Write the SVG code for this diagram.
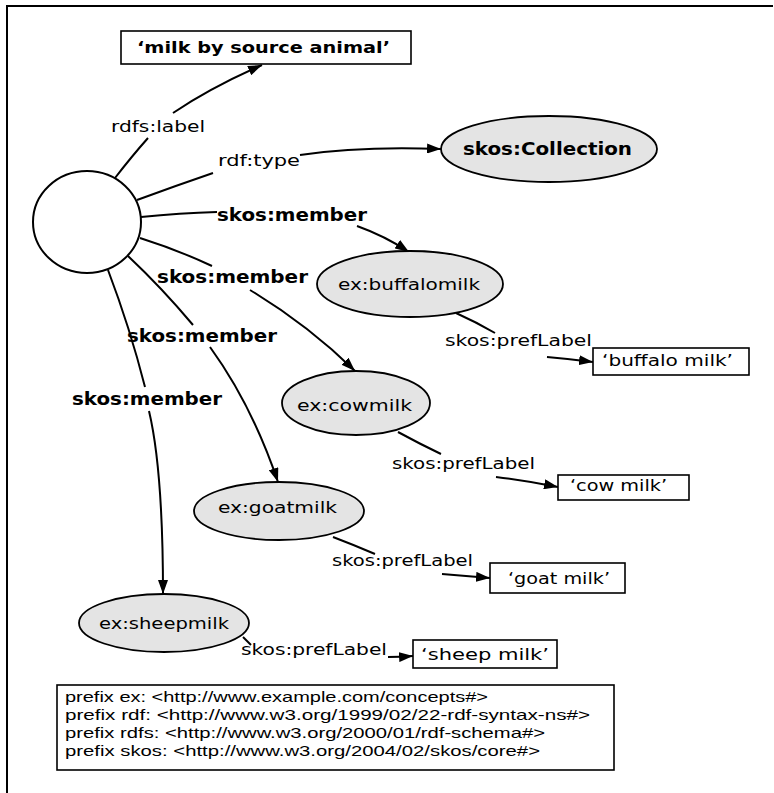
<svg xmlns="http://www.w3.org/2000/svg" width="774" height="793" viewBox="0 0 774 793">
<defs>
<marker id="ah" viewBox="0 0 14 10" refX="14" refY="5" markerWidth="14" markerHeight="10" markerUnits="userSpaceOnUse" orient="auto">
<path d="M0,0 L14,5 L0,10 z" fill="#000"/>
</marker>
</defs>
<style>
.frame{stroke:#000;stroke-width:2;fill:none}
.box{fill:#fff;stroke:#000;stroke-width:1.6}
.res{fill:#e4e4e4;stroke:#000;stroke-width:1.8}
.blank{fill:#fff;stroke:#000;stroke-width:2}
.edge{fill:none;stroke:#000;stroke-width:2}
.arr{marker-end:url(#ah)}
text{font-family:"DejaVu Sans","Liberation Sans",sans-serif;fill:#000}
.lbl{font-size:16px}
.b{font-weight:bold;font-size:17px}
.lit{font-size:16px}
.pre{font-family:"Liberation Sans","DejaVu Sans",sans-serif;font-size:14.5px}
</style>
<rect width="774" height="793" fill="#fff"/>
<path class="frame" d="M7,793 L7,6 L773,6"/>

<g id="connectors">
<path class="edge" d="M115,178 Q132,156 148,138"/>
<path class="edge arr" d="M173,113 Q210,88 262,65"/>
<path class="edge" d="M137,200 Q175,186 213,173"/>
<path class="edge arr" d="M300,155 Q360,146 441,149"/>
<path class="edge" d="M141,217 Q180,213 217,212"/>
<path class="edge arr" d="M357,226 Q385,236 409,252"/>
<path class="edge" d="M140,238 Q178,250 212,266"/>
<path class="edge arr" d="M250,290 Q308,325 355,371"/>
<path class="edge" d="M128,256 Q162,288 193,325"/>
<path class="edge arr" d="M210,347 Q252,405 278,482"/>
<path class="edge" d="M108,270 Q130,328 145,387"/>
<path class="edge arr" d="M149,411 Q163,470 163,594"/>
<path class="edge" d="M456,313 Q476,322 495,333"/>
<path class="edge arr" d="M547,357 Q570,359 593,362"/>
<path class="edge" d="M398,432 Q420,444 441,454"/>
<path class="edge arr" d="M496,477 Q528,481 558,487"/>
<path class="edge" d="M333,537 Q354,545 375,554"/>
<path class="edge arr" d="M442,574 Q466,576 490,578"/>
<path class="edge" d="M243,637 Q247,641 251,645"/>
<path class="edge arr" d="M388,657 Q400,657 413,656"/>
</g>

<g id="label-title">
<rect class="box" x="121" y="31" width="290" height="33"/>
<text class="lit b" x="137" y="53" textLength="253" lengthAdjust="spacingAndGlyphs">‘milk by source animal’</text>
</g>
<g id="collection-node">
<ellipse class="blank" cx="87" cy="222" rx="54" ry="51"/>
</g>
<g id="skos-collection">
<ellipse class="res" cx="549" cy="149" rx="108" ry="33"/>
<text class="lbl b" x="463" y="155" textLength="169" lengthAdjust="spacingAndGlyphs">skos:Collection</text>
</g>
<g id="buffalomilk">
<ellipse class="res" cx="410" cy="284" rx="93" ry="33"/>
<text class="lbl" x="338" y="290" textLength="142" lengthAdjust="spacingAndGlyphs">ex:buffalomilk</text>
</g>
<g id="buffalo-label">
<rect class="box" x="593" y="348" width="156" height="27"/>
<text class="lit" x="602" y="366" textLength="131" lengthAdjust="spacingAndGlyphs">‘buffalo milk’</text>
</g>
<g id="cowmilk">
<ellipse class="res" cx="356" cy="403" rx="74" ry="32"/>
<text class="lbl" x="297" y="411" textLength="115" lengthAdjust="spacingAndGlyphs">ex:cowmilk</text>
</g>
<g id="cow-label">
<rect class="box" x="558" y="475" width="131" height="25"/>
<text class="lit" x="570" y="491" textLength="97" lengthAdjust="spacingAndGlyphs">‘cow milk’</text>
</g>
<g id="goatmilk">
<ellipse class="res" cx="279" cy="511" rx="85" ry="29"/>
<text class="lbl" x="218" y="513" textLength="119" lengthAdjust="spacingAndGlyphs">ex:goatmilk</text>
</g>
<g id="goat-label">
<rect class="box" x="490" y="563" width="135" height="30"/>
<text class="lit" x="508" y="584" textLength="102" lengthAdjust="spacingAndGlyphs">‘goat milk’</text>
</g>
<g id="sheepmilk">
<ellipse class="res" cx="164" cy="623" rx="85" ry="29"/>
<text class="lbl" x="99" y="629" textLength="130" lengthAdjust="spacingAndGlyphs">ex:sheepmilk</text>
</g>
<g id="sheep-label">
<rect class="box" x="413" y="640" width="144" height="28"/>
<text class="lit" x="421" y="660" textLength="128" lengthAdjust="spacingAndGlyphs">‘sheep milk’</text>
</g>

<g id="edge-labels">
<text class="lbl" x="111" y="132" textLength="94" lengthAdjust="spacingAndGlyphs">rdfs:label</text>
<text class="lbl" x="218" y="166" textLength="82" lengthAdjust="spacingAndGlyphs">rdf:type</text>
<text class="lbl b" x="217" y="221" textLength="150" lengthAdjust="spacingAndGlyphs">skos:member</text>
<text class="lbl b" x="157" y="283" textLength="151" lengthAdjust="spacingAndGlyphs">skos:member</text>
<text class="lbl b" x="127" y="342" textLength="150" lengthAdjust="spacingAndGlyphs">skos:member</text>
<text class="lbl b" x="72" y="405" textLength="150" lengthAdjust="spacingAndGlyphs">skos:member</text>
<text class="lbl" x="445" y="346" textLength="147" lengthAdjust="spacingAndGlyphs">skos:prefLabel</text>
<text class="lbl" x="392" y="469" textLength="143" lengthAdjust="spacingAndGlyphs">skos:prefLabel</text>
<text class="lbl" x="332" y="566" textLength="141" lengthAdjust="spacingAndGlyphs">skos:prefLabel</text>
<text class="lbl" x="241" y="655" textLength="146" lengthAdjust="spacingAndGlyphs">skos:prefLabel</text>
</g>

<g id="prefixes">
<rect class="box" x="57" y="685" width="557" height="85"/>
<text class="pre" x="65" y="702" textLength="423" lengthAdjust="spacingAndGlyphs">prefix ex: &lt;http://www.example.com/concepts#&gt;</text>
<text class="pre" x="65" y="720" textLength="525" lengthAdjust="spacingAndGlyphs">prefix rdf: &lt;http://www.w3.org/1999/02/22-rdf-syntax-ns#&gt;</text>
<text class="pre" x="65" y="738" textLength="480" lengthAdjust="spacingAndGlyphs">prefix rdfs: &lt;http://www.w3.org/2000/01/rdf-schema#&gt;</text>
<text class="pre" x="65" y="756" textLength="475" lengthAdjust="spacingAndGlyphs">prefix skos: &lt;http://www.w3.org/2004/02/skos/core#&gt;</text>
</g>
</svg>
